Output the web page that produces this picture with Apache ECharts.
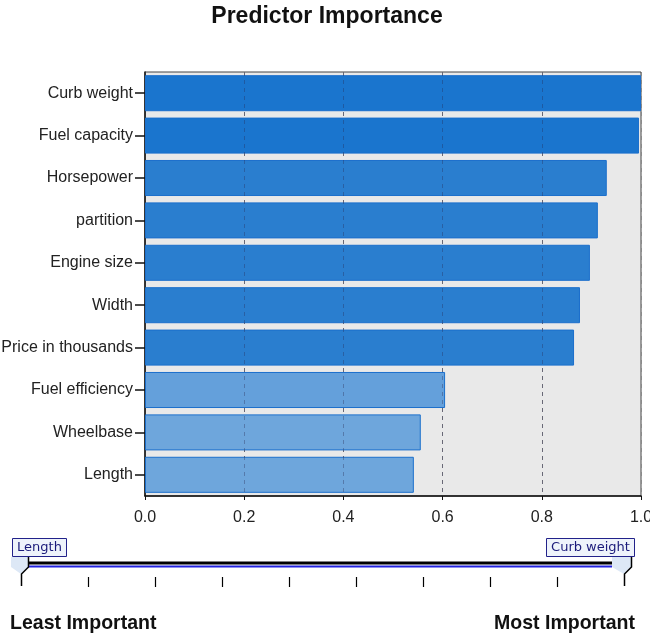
<!DOCTYPE html>
<html>
<head>
<meta charset="utf-8">
<script src="https://cdn.jsdelivr.net/npm/echarts@6/dist/echarts.min.js"></script>
<style>html,body{margin:0;padding:0;background:#fff}#c{width:650px;height:634px}</style>
</head>
<body>
<div id="c"></div>
<script>
var categories = ["Curb weight", "Fuel capacity", "Horsepower", "partition", "Engine size", "Width", "Price in thousands", "Fuel efficiency", "Wheelbase", "Length"];
var importance = [1.0, 0.996, 0.931, 0.913, 0.897, 0.877, 0.865, 0.605, 0.556, 0.542];
var gridValues = [0.2, 0.4, 0.6, 0.8];
var sliderLeftLabel = "Length";
var sliderRightLabel = "Curb weight";
var leastLabel = "Least Important";
var mostLabel = "Most Important";
var titleText = "Predictor Importance";

function barColor(v) {
  if (v >= 0.95) return '#1a75ce';
  if (v >= 0.8) return '#2a7ecf';
  if (v >= 0.58) return '#64a0db';
  return '#6ea6dc';
}

var chart = echarts.init(document.getElementById('c'), null, {renderer: 'canvas'});
var FONT = '"Liberation Sans", Arial, sans-serif';

var tickXs = [22, 88, 155, 222, 289, 356, 423, 490, 557, 624];
var graphics = [];
graphics.push({type: 'line', shape: {x1: 28, y1: 563, x2: 612, y2: 563}, style: {stroke: '#000', lineWidth: 3}, z: 10});
graphics.push({type: 'line', shape: {x1: 28, y1: 566.5, x2: 612, y2: 566.5}, style: {stroke: '#2222dd', lineWidth: 2}, z: 10});
graphics.push({type: 'polygon', shape: {points: [[11, 557], [28, 557], [28, 567], [21, 574], [11, 567]]}, style: {fill: '#dde8f6'}, z: 9});
graphics.push({type: 'polygon', shape: {points: [[612, 557], [632, 557], [632, 567], [624, 574], [612, 567]]}, style: {fill: '#dde8f6'}, z: 9});
graphics.push({type: 'polyline', shape: {points: [[28.5, 557], [28.5, 567], [21.5, 574], [21.5, 586]]}, style: {stroke: '#000', lineWidth: 1.5, fill: null}, z: 11});
graphics.push({type: 'polyline', shape: {points: [[631.5, 557], [631.5, 567], [624.5, 574], [624.5, 586]]}, style: {stroke: '#000', lineWidth: 1.5, fill: null}, z: 11});
for (var i = 1; i < tickXs.length - 1; i++) {
  graphics.push({type: 'line', shape: {x1: tickXs[i] + 0.5, y1: 577, x2: tickXs[i] + 0.5, y2: 587}, style: {stroke: '#000', lineWidth: 1.2}, z: 10});
}
graphics.push({type: 'rect', shape: {x: 12.5, y: 538.5, width: 54, height: 18}, style: {fill: '#eef3fb', stroke: '#22228a', lineWidth: 1}, z: 12});
graphics.push({type: 'text', x: 39.5, y: 547.5, style: {text: sliderLeftLabel, font: '13px "DejaVu Sans", sans-serif', fill: '#1a1a7a', textAlign: 'center', textVerticalAlign: 'middle'}, z: 13});
graphics.push({type: 'rect', shape: {x: 546.5, y: 538.5, width: 88, height: 18}, style: {fill: '#eef3fb', stroke: '#22228a', lineWidth: 1}, z: 12});
graphics.push({type: 'text', x: 590.5, y: 547.5, style: {text: sliderRightLabel, font: '13px "DejaVu Sans", sans-serif', fill: '#1a1a7a', textAlign: 'center', textVerticalAlign: 'middle'}, z: 13});
graphics.push({type: 'text', x: 10, y: 623, scaleX: 0.93, style: {text: leastLabel, font: 'bold 21px ' + FONT, fill: '#111', textAlign: 'left', textVerticalAlign: 'middle'}, z: 10});
graphics.push({type: 'text', x: 635, y: 623, scaleX: 0.93, style: {text: mostLabel, font: 'bold 21px ' + FONT, fill: '#111', textAlign: 'right', textVerticalAlign: 'middle'}, z: 10});

var option = {
  animation: false,
  backgroundColor: '#fff',
  title: {
    text: titleText, left: 322, top: 0, textAlign: 'center',
    textStyle: {fontFamily: FONT, fontWeight: 'bold', fontSize: 23, color: '#111'}
  },
  grid: {left: 145, right: 9, top: 72, bottom: 138, containLabel: false, outerBoundsMode: 'none', show: true, backgroundColor: '#e9e9e9', borderColor: '#444', borderWidth: 1},
  xAxis: {
    type: 'value', min: 0, max: 1, interval: 0.2,
    axisLine: {show: true, lineStyle: {color: '#111', width: 1.5}},
    axisTick: {show: true, length: 4, lineStyle: {color: '#111'}},
    axisLabel: {fontFamily: FONT, fontSize: 16, color: '#222', margin: 14, formatter: function (v) { return v.toFixed(1); }},
    splitLine: {show: true, lineStyle: {color: '#8a8a8a', type: [4, 4], width: 1}}
  },
  yAxis: {
    type: 'category', data: categories, inverse: true,
    axisLine: {show: true, lineStyle: {color: '#111', width: 1.5}},
    axisTick: {show: true, alignWithLabel: true, length: 10, lineStyle: {color: '#111', width: 1.5}},
    axisLabel: {fontFamily: FONT, fontSize: 16, color: '#222', margin: 12}
  },
  series: [{
    type: 'bar',
    barCategoryGap: '15%',
    data: importance.map(function (v) {
      return {value: v, itemStyle: {color: barColor(v), borderColor: '#1b6fcc', borderWidth: 1}};
    }),
    markLine: {
      silent: true, symbol: 'none', label: {show: false},
      lineStyle: {color: 'rgba(40,40,80,0.35)', type: [4, 4], width: 1},
      data: gridValues.map(function (g) { return {xAxis: g}; })
    }
  }],
  graphic: graphics
};
chart.setOption(option);
</script>
</body>
</html>
